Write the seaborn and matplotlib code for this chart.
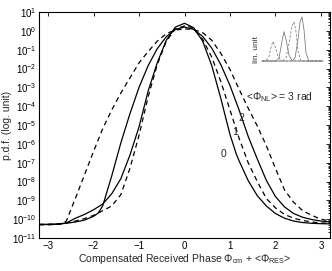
import numpy as np
import pandas as pd
import matplotlib
matplotlib.use("Agg")
import matplotlib.pyplot as plt
import seaborn as sns
from matplotlib.ticker import LogLocator, NullFormatter, FixedLocator

# ---------------- data ----------------
x0 = [-3.2, -3.0, -2.8, -2.6, -2.4, -2.2, -2.0, -1.8, -1.6, -1.4, -1.2, -1.0, -0.8, -0.6, -0.4, -0.2, 0.0,
      0.2, 0.4, 0.6, 0.8, 1.0, 1.14, 1.2, 1.4, 1.6, 1.8, 2.0, 2.2, 2.4, 2.6, 2.8, 3.0, 3.2]
log_pdf0 = [-10.28, -10.28, -10.27, -10.2, -9.95, -9.75, -9.5, -9.2, -8.65, -7.85, -6.6, -5.1, -3.2, -1.7, -0.5, 0.2, 0.4,
            0.17, -0.55, -1.85, -3.6, -5.5, -6.55, -6.9, -7.95, -8.75, -9.3, -9.7, -9.95, -10.1, -10.18, -10.22, -10.24, -10.25]

x1 = [-3.2, -3.0, -2.8, -2.6, -2.4, -2.2, -2.0, -1.8, -1.6, -1.4, -1.2, -1.0, -0.8, -0.6, -0.4, -0.2, 0.05,
      0.2, 0.4, 0.6, 0.8, 1.0, 1.2, 1.4, 1.6, 1.8, 2.0, 2.2, 2.4, 2.6, 2.8, 3.0, 3.2]
log_pdf1 = [-10.28, -10.27, -10.25, -10.2, -10.1, -9.97, -9.8, -9.55, -9.3, -8.7, -7.3, -5.55, -3.5, -1.8, -0.55, 0.1, 0.3,
            0.1, -0.45, -1.4, -2.7, -4.2, -5.7, -7.0, -8.0, -8.9, -9.4, -9.75, -9.95, -10.07, -10.15, -10.2, -10.22]

x2 = [-3.2, -3.0, -2.8, -2.6, -2.4, -2.2, -2.0, -1.9, -1.8, -1.6, -1.4, -1.2, -1.0, -0.8, -0.6, -0.4, -0.2, 0.0,
      0.2, 0.4, 0.6, 0.8, 1.0, 1.2, 1.4, 1.6, 1.8, 2.0, 2.2, 2.4, 2.6, 2.8, 3.0, 3.2]
log_pdf2 = [-10.28, -10.28, -10.26, -10.22, -10.15, -10.05, -9.85, -9.68, -9.3, -7.7, -5.95, -4.4, -3.0, -1.85, -0.95, -0.31, 0.08, 0.2,
            0.08, -0.3, -0.92, -1.8, -2.9, -4.2, -5.6, -6.8, -7.94, -8.8, -9.35, -9.7, -9.9, -10.02, -10.1, -10.15]

x3 = [-3.2, -3.0, -2.8, -2.7, -2.6, -2.4, -2.2, -2.0, -1.8, -1.6, -1.4, -1.2, -1.0, -0.8, -0.6, -0.4, -0.2, 0.05,
      0.2, 0.4, 0.6, 0.8, 1.0, 1.2, 1.4, 1.6, 1.8, 2.0, 2.2, 2.4, 2.6, 2.8, 3.0, 3.2]
log_pdf3 = [-10.3, -10.3, -10.28, -10.25, -10.1, -8.9, -7.65, -6.4, -5.2, -4.2, -3.3, -2.5, -1.7, -1.1, -0.55, -0.15, 0.05, 0.1,
            0.07, -0.1, -0.5, -1.2, -2.05, -3.1, -4.1, -5.05, -6.1, -7.3, -8.45, -9.1, -9.55, -9.8, -10.0, -10.1]

curve_labels = ["0", "1", "2", "<Φ$_{NL}$> = 3 rad"]
label_x = [0.93, 1.17, 1.32, 1.35]
label_logy = [-6.55, -5.38, -4.64, -3.52]

# inset (linear units, arbitrary phase axis)
ix_a = [0, 4, 7, 9, 11, 13, 16, 19, 22, 61]
iy_a = [0, 0.5, 5, 14, 20, 15, 5, 0.5, 0, 0]
ix_b = [0, 14, 17, 20, 22, 24, 27, 30, 33, 61]
iy_b = [0, 0, 3, 20, 30, 22, 6, 0.5, 0, 0]
ix_c = [0, 21, 24, 27, 30, 32, 34, 36, 39, 61]
iy_c = [0, 0, 3, 18, 36, 40, 30, 10, 0, 0]
ix_d = [0, 30, 33, 36, 38, 40, 42, 44, 47, 61]
iy_d = [0, 0, 3, 22, 40, 45, 32, 8, 0, 0]

xticks = [-3, -2, -1, 0, 1, 2, 3]
yexps = list(range(-11, 2))

# ---------------- figure ----------------
sns.set_style("white")
plt.rcParams["font.family"] = ["Liberation Sans", "DejaVu Sans"]
plt.rcParams["mathtext.fontset"] = "custom"
plt.rcParams["mathtext.rm"] = "Liberation Sans"
plt.rcParams["mathtext.it"] = "Liberation Sans"
plt.rcParams["mathtext.default"] = "regular"

fig = plt.figure(figsize=(3.32, 2.71), dpi=100)
ax = fig.add_axes([39 / 332, 1 - 238 / 271, 291 / 332, 226 / 271])

styles = [("-", None), ((0, (4, 3)), None), ("-", None), ((0, (4, 3)), None)]
series = [(x0, log_pdf0), (x1, log_pdf1), (x2, log_pdf2), (x3, log_pdf3)]
for (xs, ly), (ls, _) in zip(series, styles):
    df = pd.DataFrame({"x": xs, "pdf": np.power(10.0, ly)})
    sns.lineplot(data=df, x="x", y="pdf", ax=ax, color="black", lw=0.9,
                 linestyle=ls, sort=False, estimator=None)

ax.set_yscale("log")
ax.set_xlim(-3.2, 3.2)
ax.set_ylim(1e-11, 1e1)
ax.set_xticks(xticks)
ax.set_xticklabels(["\u2212" + str(-t) if t < 0 else str(t) for t in xticks], fontsize=7)
ax.yaxis.set_major_locator(FixedLocator([10.0 ** e for e in yexps]))
ax.set_yticklabels([r"$10^{%s}$" % (("\u2212" + str(-e)) if e < 0 else str(e)) for e in yexps], fontsize=7)
ax.yaxis.set_minor_locator(LogLocator(base=10, subs=np.arange(2, 10), numticks=100))
ax.yaxis.set_minor_formatter(NullFormatter())
ax.tick_params(which="both", direction="in", top=True, right=True, width=0.6, colors="black")
ax.tick_params(which="major", length=3, pad=2)
ax.tick_params(which="minor", length=1.5)
for s in ax.spines.values():
    s.set_linewidth(0.8)
    s.set_color("black")

ax.set_xlabel("Compensated Received Phase Φ$_{cm}$ + <Φ$_{RES}$>", fontsize=7.5, labelpad=1)
ax.set_ylabel("p.d.f. (log. unit)", fontsize=7.5, labelpad=0)

for t, lx, lyv in zip(curve_labels, label_x, label_logy):
    ax.text(lx, 10.0 ** lyv, t, fontsize=7.5, ha="left" if len(t) > 1 else "right", va="center")

# inset
iax = fig.add_axes([258 / 332, 1 - 62 / 271, 72 / 332, 50 / 271])
iax.patch.set_alpha(0)
grey = "#808080"
for xs, ys, ls in [(ix_a, iy_a, (0, (3, 2))), (ix_b, iy_b, "-"), (ix_c, iy_c, (0, (3, 2))), (ix_d, iy_d, "-")]:
    sns.lineplot(x=xs, y=ys, ax=iax, color=grey, lw=0.6, linestyle=ls, sort=False, estimator=None)
iax.set_xlim(-4, 68)
iax.set_ylim(-1, 50)
iax.axis("off")
fig.text(257 / 332, 1 - 50 / 271, "lin. unit", rotation=90, fontsize=6, color="#333333", ha="center", va="center")

fig.savefig("out.png", dpi=100)
